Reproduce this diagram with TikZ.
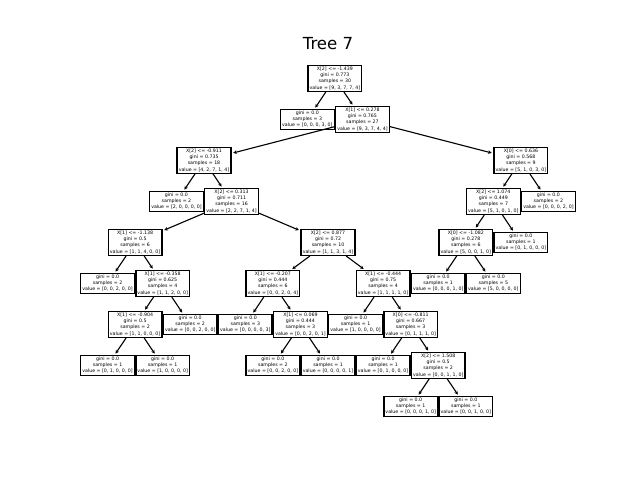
\documentclass[tikz,border=0pt]{standalone}
\usepackage{fontspec}
\setmainfont{DejaVu Sans}
\usetikzlibrary{arrows.meta}
\tikzset{
  tbox/.style={draw=black, fill=white, line width=1bp, inner sep=1.2pt, align=center,
    font=\fontsize{3.4}{4.35}\selectfont},
  tedge/.style={line width=0.8bp, -{Stealth[length=2.6bp,width=2.6bp]}, shorten >=1.2bp},
}
\newcommand{\ux}[1]{80+#1*27.556}
\newcommand{\uy}[1]{78.5+#1*41}
\begin{document}
\begin{tikzpicture}[x=0.72bp,y=-0.72bp]
\useasboundingbox (0,0) rectangle (640,480);
\node[font=\fontsize{12}{14}\selectfont, anchor=base] (title) at (328,49.5) {Tree 7};
% nodes
\node[tbox] (n0) at ({\ux{9.25}},{\uy{0}}) {X[2] <= -1.439\\gini = 0.773\\samples = 30\\value = [9, 3, 7, 7, 4]};
\node[tbox] (n1) at ({\ux{8.25}},{\uy{1}}) {gini = 0.0\\samples = 3\\value = [0, 0, 0, 3, 0]};
\node[tbox] (n2) at ({\ux{10.25}},{\uy{1}}) {X[1] <= 0.278\\gini = 0.765\\samples = 27\\value = [9, 3, 7, 4, 4]};
\node[tbox] (n3) at ({\ux{4.5}},{\uy{2}}) {X[2] <= -0.911\\gini = 0.735\\samples = 18\\value = [4, 2, 7, 1, 4]};
\node[tbox] (n4) at ({\ux{3.5}},{\uy{3}}) {gini = 0.0\\samples = 2\\value = [2, 0, 0, 0, 0]};
\node[tbox] (n5) at ({\ux{5.5}},{\uy{3}}) {X[2] <= 0.313\\gini = 0.711\\samples = 16\\value = [2, 2, 7, 1, 4]};
\node[tbox] (n6) at ({\ux{2}},{\uy{4}}) {X[1] <= -1.138\\gini = 0.5\\samples = 6\\value = [1, 1, 4, 0, 0]};
\node[tbox] (n7) at ({\ux{1}},{\uy{5}}) {gini = 0.0\\samples = 2\\value = [0, 0, 2, 0, 0]};
\node[tbox] (n8) at ({\ux{3}},{\uy{5}}) {X[1] <= -0.358\\gini = 0.625\\samples = 4\\value = [1, 1, 2, 0, 0]};
\node[tbox] (n9) at ({\ux{2}},{\uy{6}}) {X[1] <= -0.904\\gini = 0.5\\samples = 2\\value = [1, 1, 0, 0, 0]};
\node[tbox] (n10) at ({\ux{1}},{\uy{7}}) {gini = 0.0\\samples = 1\\value = [0, 1, 0, 0, 0]};
\node[tbox] (n11) at ({\ux{3}},{\uy{7}}) {gini = 0.0\\samples = 1\\value = [1, 0, 0, 0, 0]};
\node[tbox] (n12) at ({\ux{4}},{\uy{6}}) {gini = 0.0\\samples = 2\\value = [0, 0, 2, 0, 0]};
\node[tbox] (n13) at ({\ux{9}},{\uy{4}}) {X[2] <= 0.877\\gini = 0.72\\samples = 10\\value = [1, 1, 3, 1, 4]};
\node[tbox] (n14) at ({\ux{7}},{\uy{5}}) {X[1] <= -0.207\\gini = 0.444\\samples = 6\\value = [0, 0, 2, 0, 4]};
\node[tbox] (n15) at ({\ux{6}},{\uy{6}}) {gini = 0.0\\samples = 3\\value = [0, 0, 0, 0, 3]};
\node[tbox] (n16) at ({\ux{8}},{\uy{6}}) {X[1] <= 0.069\\gini = 0.444\\samples = 3\\value = [0, 0, 2, 0, 1]};
\node[tbox] (n17) at ({\ux{7}},{\uy{7}}) {gini = 0.0\\samples = 2\\value = [0, 0, 2, 0, 0]};
\node[tbox] (n18) at ({\ux{9}},{\uy{7}}) {gini = 0.0\\samples = 1\\value = [0, 0, 0, 0, 1]};
\node[tbox] (n19) at ({\ux{11}},{\uy{5}}) {X[1] <= -0.444\\gini = 0.75\\samples = 4\\value = [1, 1, 1, 1, 0]};
\node[tbox] (n20) at ({\ux{10}},{\uy{6}}) {gini = 0.0\\samples = 1\\value = [1, 0, 0, 0, 0]};
\node[tbox] (n21) at ({\ux{12}},{\uy{6}}) {X[0] <= -0.811\\gini = 0.667\\samples = 3\\value = [0, 1, 1, 1, 0]};
\node[tbox] (n22) at ({\ux{11}},{\uy{7}}) {gini = 0.0\\samples = 1\\value = [0, 1, 0, 0, 0]};
\node[tbox] (n23) at ({\ux{13}},{\uy{7}}) {X[2] <= 1.508\\gini = 0.5\\samples = 2\\value = [0, 0, 1, 1, 0]};
\node[tbox] (n24) at ({\ux{12}},{\uy{8}}) {gini = 0.0\\samples = 1\\value = [0, 0, 0, 1, 0]};
\node[tbox] (n25) at ({\ux{14}},{\uy{8}}) {gini = 0.0\\samples = 1\\value = [0, 0, 1, 0, 0]};
\node[tbox] (n26) at ({\ux{16}},{\uy{2}}) {X[0] <= 0.636\\gini = 0.568\\samples = 9\\value = [5, 1, 0, 3, 0]};
\node[tbox] (n27) at ({\ux{15}},{\uy{3}}) {X[2] <= 1.074\\gini = 0.449\\samples = 7\\value = [5, 1, 0, 1, 0]};
\node[tbox] (n28) at ({\ux{14}},{\uy{4}}) {X[0] <= -1.082\\gini = 0.278\\samples = 6\\value = [5, 0, 0, 1, 0]};
\node[tbox] (n29) at ({\ux{13}},{\uy{5}}) {gini = 0.0\\samples = 1\\value = [0, 0, 0, 1, 0]};
\node[tbox] (n30) at ({\ux{15}},{\uy{5}}) {gini = 0.0\\samples = 5\\value = [5, 0, 0, 0, 0]};
\node[tbox] (n31) at ({\ux{16}},{\uy{4}}) {gini = 0.0\\samples = 1\\value = [0, 1, 0, 0, 0]};
\node[tbox] (n32) at ({\ux{17}},{\uy{3}}) {gini = 0.0\\samples = 2\\value = [0, 0, 0, 2, 0]};
% edges
\foreach \p/\c in {n0/n1,n0/n2,n2/n3,n2/n26,n3/n4,n3/n5,n5/n6,n5/n13,n6/n7,n6/n8,n8/n9,n8/n12,n9/n10,n9/n11,
  n13/n14,n13/n19,n14/n15,n14/n16,n16/n17,n16/n18,n19/n20,n19/n21,n21/n22,n21/n23,n23/n24,n23/n25,
  n26/n27,n26/n32,n27/n28,n27/n31,n28/n29,n28/n30}
  \draw[tedge] (\p) -- (\c);
\end{tikzpicture}
\end{document}
